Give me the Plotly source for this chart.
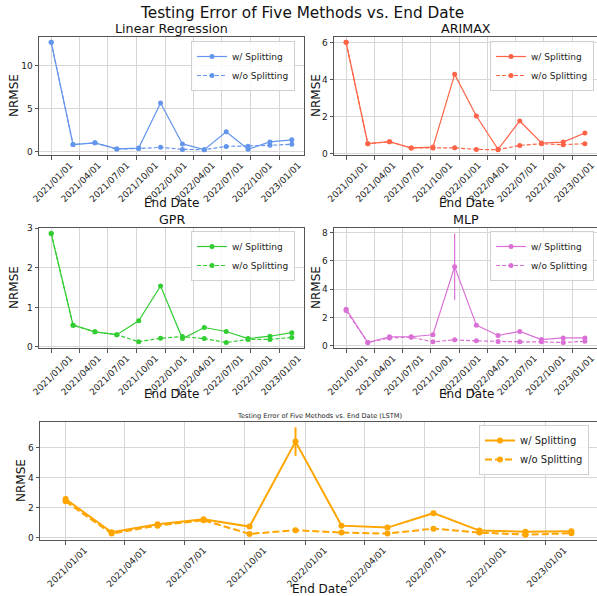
import plotly.graph_objects as go

# ---------------- data ----------------
dates = ["2021-01-01", "2021-03-12", "2021-05-21", "2021-07-30", "2021-10-08", "2021-12-17",
         "2022-02-25", "2022-05-06", "2022-07-15", "2022-09-23", "2022-12-02", "2023-02-10"]
tick_dates = ["2021-01-01", "2021-04-01", "2021-07-01", "2021-10-01", "2022-01-01",
              "2022-04-01", "2022-07-01", "2022-10-01", "2023-01-01"]
tick_labels = ["2021/01/01", "2021/04/01", "2021/07/01", "2021/10/01", "2022/01/01",
               "2022/04/01", "2022/07/01", "2022/10/01", "2023/01/01"]

lr_with = [12.75, 0.80, 1.00, 0.28, 0.38, 5.65, 0.87, 0.20, 2.30, 0.25, 1.10, 1.35]
lr_without = [12.75, 0.80, 1.00, 0.28, 0.32, 0.47, 0.23, 0.20, 0.58, 0.60, 0.70, 0.83]
lr_err = [0, 0, 0, 0, 0, 0, 0, 0, 0, 0, 0, 0]

arimax_with = [6.02, 0.54, 0.65, 0.31, 0.36, 4.29, 2.04, 0.24, 1.77, 0.58, 0.63, 1.12]
arimax_without = [6.02, 0.54, 0.65, 0.31, 0.31, 0.32, 0.23, 0.22, 0.45, 0.54, 0.49, 0.54]
arimax_err = [0, 0, 0, 0, 0, 0, 0, 0, 0, 0, 0, 0]

gpr_with = [2.87, 0.55, 0.38, 0.31, 0.66, 1.54, 0.21, 0.49, 0.39, 0.21, 0.27, 0.36]
gpr_without = [2.87, 0.55, 0.38, 0.31, 0.13, 0.22, 0.26, 0.21, 0.11, 0.19, 0.19, 0.24]
gpr_err = [0, 0, 0, 0, 0, 0, 0, 0, 0, 0, 0, 0]

mlp_with = [2.58, 0.22, 0.63, 0.63, 0.77, 5.59, 1.45, 0.72, 1.01, 0.43, 0.55, 0.55]
mlp_without = [2.48, 0.22, 0.55, 0.60, 0.27, 0.41, 0.34, 0.29, 0.27, 0.27, 0.22, 0.31]
mlp_err = [0, 0, 0, 0, 0, 2.35, 0, 0, 0, 0, 0, 0]

lstm_with = [2.57, 0.36, 0.89, 1.23, 0.74, 6.40, 0.80, 0.67, 1.63, 0.47, 0.40, 0.42]
lstm_without = [2.42, 0.27, 0.80, 1.16, 0.25, 0.49, 0.34, 0.27, 0.60, 0.34, 0.20, 0.29]
lstm_err = [0, 0, 0, 0, 0, 0.95, 0, 0, 0.15, 0, 0, 0]

main_title = "Testing Error of Five Methods vs. End Date"
panel_titles = ["Linear Regression", "ARIMAX", "GPR", "MLP",
                "Testing Error of Five Methods vs. End Date (LSTM)"]
series_names = ["w/ Splitting", "w/o Splitting"]
x_title = "End Date"
y_title = "NRMSE"
colors = ["#6495ED", "#FF6347", "#32CD32", "#DA70D6", "#FFA500"]
ydticks = [5, 2, 1, 2, 2]

panels = [
    (lr_with, lr_without, lr_err),
    (arimax_with, arimax_without, arimax_err),
    (gpr_with, gpr_without, gpr_err),
    (mlp_with, mlp_without, mlp_err),
    (lstm_with, lstm_without, lstm_err),
]

# ---------------- layout geometry (window pixels) ----------------
W, H = 597, 596
boxes = [  # left, right, top, bottom
    (39, 304, 37, 155),
    (334, 598, 37, 155),
    (39, 304, 228, 348),
    (334, 598, 228, 348),
    (40, 598, 422, 540),
]
legend_pos = [(295, 41), (594, 41), (295, 231), (594, 231), (589, 425)]
xtitle_y = [203, 203, 394, 394, 589]
ytitle_x = [14, 316, 14, 316, 21]


def px(x):
    return max(0.0, min(1.0, x / W))


def py(y):
    return 1 - y / H


FONT = "DejaVu Sans"
fig = go.Figure()
layout = dict(
    width=W, height=H, margin=dict(l=0, r=0, t=0, b=0, autoexpand=False),
    paper_bgcolor="white", plot_bgcolor="white",
    font=dict(family=FONT, color="#222"), showlegend=True,
)


def ann(text, x, y, size, angle=0, color="#111"):
    return dict(text=text, x=x, y=y, xref="paper", yref="paper", xanchor="center",
                yanchor="middle", showarrow=False, textangle=angle,
                font=dict(size=size, family=FONT, color=color))


annotations = [ann(main_title, px(302), py(13), 15.3)]

for i, ((w, wo, err), color, dt) in enumerate(zip(panels, colors, ydticks)):
    k = i + 1
    xa = "x" if k == 1 else f"x{k}"
    ya = "y" if k == 1 else f"y{k}"
    lg = "legend" if k == 1 else f"legend{k}"
    big = (k == 5)
    lw = 2 if big else 1.2
    ms = 6 if big else 5
    fig.add_trace(go.Scatter(
        x=dates, y=w, name=series_names[0], mode="lines+markers",
        line=dict(color=color, width=lw), marker=dict(color=color, size=ms),
        error_y=dict(type="data", array=err, visible=True, color=color,
                     thickness=lw, width=0),
        xaxis=xa, yaxis=ya, legend=lg))
    fig.add_trace(go.Scatter(
        x=dates, y=wo, name=series_names[1], mode="lines+markers",
        line=dict(color=color, width=lw, dash="7px,3px" if big else "4px,2px"),
        marker=dict(color=color, size=ms),
        xaxis=xa, yaxis=ya, legend=lg))

    # matplotlib-like autoscale with 5% margins
    lo = min(min(w), min(wo), min(a - e for a, e in zip(w, err)))
    hi = max(max(w), max(wo), max(a + e for a, e in zip(w, err)))
    m = (hi - lo) * 0.05
    l, r, t, b = boxes[i]
    axis_common = dict(showline=True, linecolor="#555", linewidth=1, mirror=True,
                       showgrid=True, gridcolor="#d6d6d6", gridwidth=1,
                       ticks="outside", ticklen=3.5, tickcolor="#555", automargin=False,
                       zeroline=False, tickfont=dict(size=9, family=FONT, color="#222"))
    layout[("xaxis" if k == 1 else f"xaxis{k}")] = dict(
        axis_common, domain=[px(l), px(r)], anchor=ya, type="date",
        range=["2020-11-23", "2023-03-21"], tickvals=tick_dates, ticktext=tick_labels,
        tickangle=-45, ticklabelshift=19, ticklabelstandoff=-3)
    layout[("yaxis" if k == 1 else f"yaxis{k}")] = dict(
        axis_common, domain=[py(b), py(t)], anchor=xa, range=[lo - m, hi + m],
        dtick=dt, tick0=0)
    lx, ly = legend_pos[i]
    layout[lg] = dict(x=px(lx), y=py(ly), xanchor="right", yanchor="top",
                      xref="paper", yref="paper",
                      bgcolor="rgba(255,255,255,0.85)", bordercolor="#d0d0d0", borderwidth=1,
                      font=dict(size=10 if big else 9, family=FONT, color="#222"),
                      itemwidth=30, tracegroupgap=0)
    cx = (l + r) / 2
    annotations.append(ann(x_title, px(cx), py(xtitle_y[i]), 12))
    annotations.append(ann(y_title, px(ytitle_x[i]), py((t + b) / 2), 12, angle=-90))
    if big:
        annotations.append(ann(panel_titles[i], px(319), py(416), 6.6, color="#222"))
    else:
        annotations.append(ann(panel_titles[i], px(cx), py(t - 9), 12.7))

layout["annotations"] = annotations
fig.update_layout(**layout)
fig.write_html("out.html", config={"displayModeBar": False},
               post_script="document.body.style.margin='0';document.body.style.overflow='hidden';")
